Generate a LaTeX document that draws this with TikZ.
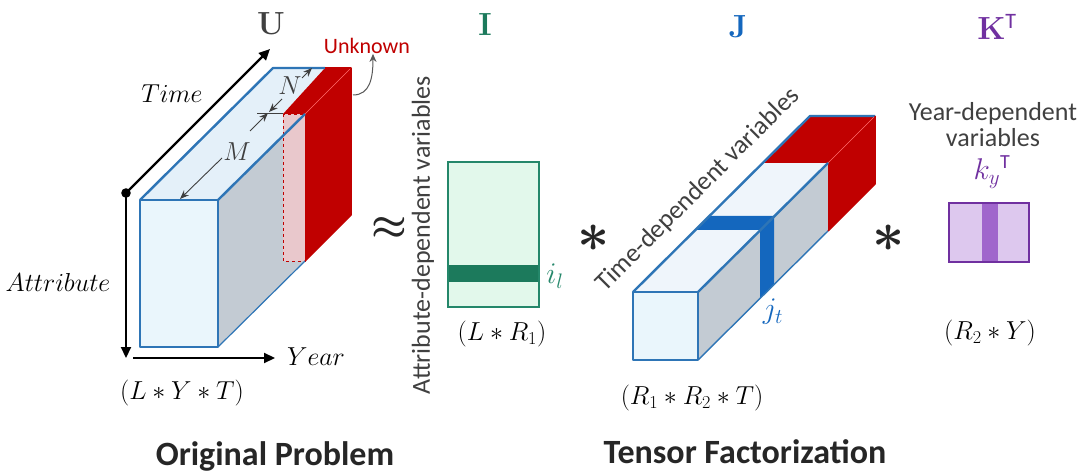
\documentclass[tikz,border=0pt]{standalone}
\usepackage{fix-cm}
\usepackage[no-math]{fontspec}
\setmainfont{Carlito}
\usetikzlibrary{arrows.meta}
\definecolor{ublue}{HTML}{2E75B6}
\definecolor{jband}{HTML}{1467BE}
\definecolor{ured}{HTML}{C00000}
\definecolor{ugray}{HTML}{C3CBD3}
\definecolor{frontblue}{HTML}{EAF6FC}
\definecolor{topblue}{HTML}{E4F0F9}
\definecolor{jtop}{HTML}{EFF5FB}
\definecolor{pinkish}{HTML}{E9C8CC}
\definecolor{ggreen}{HTML}{24876A}
\definecolor{gband}{HTML}{1C7A5C}
\definecolor{gfill}{HTML}{E2F8EB}
\definecolor{ppurple}{HTML}{7030A0}
\definecolor{pfill}{HTML}{DDC8EE}
\definecolor{pband}{HTML}{A066CC}
\definecolor{txtgray}{HTML}{404040}
\definecolor{dimgray}{HTML}{3F3F3F}
\begin{document}
\begin{tikzpicture}[x=1pt,y=-1pt,
  edgeb/.style={draw=ublue,line width=2.4pt,line join=round},
  edger/.style={draw=ured,line width=1.5pt,line join=round},
  axisarrow/.style={draw=black,line width=2.2pt,-{Triangle[length=11pt,width=10pt]}},
  dimarrow/.style={draw=dimgray,line width=0.9pt,-{Stealth[length=9pt,width=7pt]}},
  mathlbl/.style={inner sep=0pt,font=\fontsize{26}{30}\selectfont},
  sublbl/.style={inner sep=0pt,font=\fontsize{30}{34}\selectfont},
  varlbl/.style={inner sep=0pt,text=txtgray,font=\fontsize{26}{30}\selectfont},
  biglbl/.style={inner sep=0pt,font=\fontsize{32}{36}\selectfont},
  titlelbl/.style={inner sep=0pt,text=black!85,font=\fontsize{34}{40}\selectfont\bfseries},
  opsym/.style={inner sep=0pt,text=black!85}
]
\useasboundingbox (0,0) rectangle (1080,476);
\fill[white] (0,0) rectangle (1080,476);

% ---------------- Original tensor U ----------------
\fill[frontblue] (140,200) rectangle (218,347);
\fill[topblue] (140,200) -- (218,200) -- (305,114) -- (283,114) -- (325,68) -- (273,68) -- cycle;
\fill[ugray] (218,200) -- (305,114) -- (305,261) -- (218,347) -- cycle;
\fill[pinkish] (283,114) rectangle (305,261);
\draw[ured,dashed,line width=0.9pt] (283,114) rectangle (305,261);
\fill[ured] (305,114) -- (351,68) -- (351,215) -- (305,261) -- cycle;
\fill[ured] (283,114) -- (305,114) -- (351,68) -- (325,68) -- cycle;
\draw[red!60!white,line width=0.6pt] (305,114) -- (351,68);
\draw[edgeb] (140,200) rectangle (218,347);
\draw[edgeb] (140,200) -- (273,68) -- (325,68);
\draw[edgeb] (218,200) -- (305,114);
\draw[ublue,line width=1.2pt] (218,347) -- (305,261);
\draw[edger] (325,68) -- (351,68) -- (351,215) -- (305,261);

% dimension arrows
\coordinate (nTop) at (312,68);
\coordinate (nBot) at (269,112);
\coordinate (mTop) at (268,113);
\coordinate (mBot) at (180,199);
\node[mathlbl,text=dimgray] (nlab) at (290,86) {$N$};
\node[mathlbl,text=dimgray] (mlab) at (237,152) {$M$};
\draw[dimarrow] (302,78) -- (nTop);
\draw[dimarrow] (282,99) -- (nBot);
\draw[dimarrow] (250,131) -- (mTop);
\draw[dimarrow] (222,158) -- (mBot);
\draw[dimgray,line width=0.9pt] (257,113) -- (283,113);

% axes
\coordinate (orig) at (126,193);
\coordinate (timeEnd) at (270,49);
\coordinate (attrEnd) at (126,358);
\coordinate (yearStart) at (133,358);
\coordinate (yearEnd) at (275,358);
\draw[axisarrow] (orig) -- (timeEnd);
\draw[axisarrow] (orig) -- (attrEnd);
\draw[axisarrow] (yearStart) -- (yearEnd);
\fill[black] (orig) circle (4.8);

\node[mathlbl] (time) at (172,94) {$Time$};
\node[mathlbl] (attr) at (58,282) {$Attribute$};
\node[mathlbl] (year) at (316,357) {$Year$};
\node[mathlbl] (lyt) at (182,393) {$(L\ast Y\ast T)$};
\node[biglbl,text=txtgray] (U) at (271,24) {$\mathbf{U}$};

% Unknown
\node[inner sep=0pt,text=ured,font=\fontsize{22}{26}\selectfont] (unk) at (367,46) {Unknown};
\coordinate (unkFrom) at (353,95);
\draw[draw=black!65,line width=1pt,-{Stealth[length=8pt,width=7pt]}] (unkFrom) .. controls (370,95) and (373,78) .. (unk.south -| 373,0);

\node[titlelbl] (orig title) at (275,456) {Original Problem};

% approx
\node[opsym,font=\fontsize{40}{42}\selectfont\boldmath] (approx) at (389,229) {$\approx$};

% ---------------- Matrix I ----------------
\node[varlbl,rotate=90] (attrvar) at (423,235) {Attribute-dependent variables};
\fill[gfill] (448,162) rectangle (539,307);
\fill[gband] (448,265) rectangle (539,282);
\draw[draw=ggreen,line width=2.2pt] (448,162) rectangle (539,307);
\node[sublbl,text=ggreen] (il) at (555,276) {$i_l$};
\node[mathlbl] (lr) at (502,334) {$(L\ast R_1)$};
\node[biglbl,text=gband] (I) at (485,25) {$\mathbf{I}$};

\node[opsym,font=\fontsize{56}{56}\selectfont\boldmath] (ast1) at (594,238) {$\ast$};

% ---------------- Tensor J ----------------
\fill[frontblue] (633,292) rectangle (698,360);
\fill[jtop] (633,292) -- (698,292) -- (828,163) -- (763,163) -- cycle;
\fill[jband] (695,230) -- (760,230) -- (774,216) -- (709,216) -- cycle;
\fill[ugray] (698,292) -- (828,163) -- (828,231) -- (698,360) -- cycle;
\fill[jband] (760,230) -- (774,216) -- (774,284) -- (760,298) -- cycle;
\fill[ured] (763,163) -- (828,163) -- (875,116) -- (810,116) -- cycle;
\fill[ured] (828,163) -- (875,116) -- (875,184) -- (828,231) -- cycle;
\draw[red!60!white,line width=0.6pt] (828,163) -- (875,116);
\draw[edgeb] (633,292) rectangle (698,360);
\draw[edgeb] (633,292) -- (810,116) -- (875,116);
\draw[edgeb] (698,292) -- (828,163);
\draw[ublue,line width=1.4pt] (698,360) -- (828,231);
\draw[edger] (875,116) -- (875,184) -- (828,231);

\node[varlbl,rotate=45] (timevar) at (698,190) {Time-dependent variables};
\node[sublbl,text=jband] (jt) at (773,312) {$j_t$};
\node[mathlbl] (rrt) at (692,398) {$(R_1\ast R_2\ast T)$};
\node[biglbl,text=jband] (J) at (738,27) {$\mathbf{J}$};

\node[opsym,font=\fontsize{56}{56}\selectfont\boldmath] (ast2) at (889,238) {$\ast$};

% ---------------- Matrix K ----------------
\node[varlbl,align=center] (yearvar) at (993,125) {Year-dependent\\[-4pt]variables};
\node[sublbl,text=ppurple] (ky) at (992,172) {$k_y{}^{\textnormal{\fontsize{20}{20}\selectfont T}}$};
\fill[pfill] (949,203) rectangle (1029,262);
\fill[pband] (982,203) rectangle (998,262);
\draw[draw=ppurple,line width=2.2pt] (949,203) rectangle (1029,262);
\node[mathlbl] (r2y) at (990,333) {$(R_2\ast Y)$};
\node[biglbl,text=ppurple] (K) at (997,27) {$\mathbf{K}^{\textnormal{\fontsize{22}{22}\selectfont T}}$};

\node[titlelbl] (tf title) at (745,452) {Tensor Factorization};
\end{tikzpicture}
\end{document}
